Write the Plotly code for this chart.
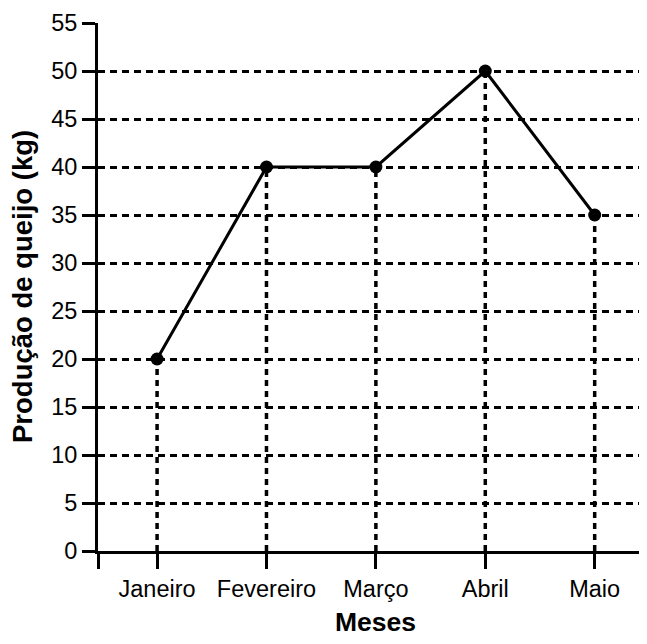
import plotly.graph_objects as go

meses = ["Janeiro", "Fevereiro", "Março", "Abril", "Maio"]
producao = [20, 40, 40, 50, 35]
y_ticks = [0, 5, 10, 15, 20, 25, 30, 35, 40, 45, 50, 55]

xs = list(range(len(meses)))

# drop lines built from the data
drop_x, drop_y = [], []
for xi, yi in zip(xs, producao):
    drop_x += [xi, xi, None]
    drop_y += [0, yi, None]

FONT = "Liberation Sans, Arial, Helvetica, sans-serif"

fig = go.Figure()
fig.add_trace(go.Scatter(
    x=drop_x, y=drop_y, mode="lines",
    line=dict(color="black", width=3.5, dash="6px,5px"),
    hoverinfo="skip", showlegend=False,
))
fig.add_trace(go.Scatter(
    x=xs, y=producao, mode="lines+markers",
    line=dict(color="black", width=3),
    marker=dict(color="black", size=13),
    showlegend=False,
))

x_lo, x_hi = -0.54, 4.46

fig.update_layout(
    width=647, height=644,
    margin=dict(l=90, r=10, t=15, b=101),
    paper_bgcolor="white", plot_bgcolor="white",
    font=dict(family=FONT, color="black", size=23),
    xaxis=dict(
        range=[x_lo, x_hi],
        automargin=False,
        tickmode="array",
        tickvals=[x_lo] + xs,
        ticktext=[""] + meses,
        ticks="outside", ticklen=15, tickwidth=3, tickcolor="black",
        showline=True, linecolor="black", linewidth=3,
        showgrid=False, zeroline=False,
        tickfont=dict(size=23.5, family=FONT, color="black"),
    ),
    yaxis=dict(
        range=[0, 55],
        automargin=False,
        tickmode="array",
        tickvals=y_ticks,
        ticks="outside", ticklen=13, tickwidth=3, tickcolor="black",
        showline=True, linecolor="black", linewidth=3,
        showgrid=True, gridcolor="black", gridwidth=2.6, griddash="7px,5px",
        zeroline=False,
        tickfont=dict(size=23.5, family=FONT, color="black"),
    ),
    annotations=[
        dict(text="<b>Produção de queijo (kg)</b>", xref="paper", yref="paper",
             x=0, y=0.5, xanchor="center", yanchor="middle", xshift=-76,
             textangle=-90, showarrow=False,
             font=dict(size=27.5, family=FONT, color="black")),
        dict(text="<b>Meses</b>", xref="x", yref="paper",
             x=2, y=0, xanchor="center", yanchor="middle", yshift=-71,
             showarrow=False,
             font=dict(size=26.5, family=FONT, color="black")),
    ],
)

fig.write_html("out.html")
